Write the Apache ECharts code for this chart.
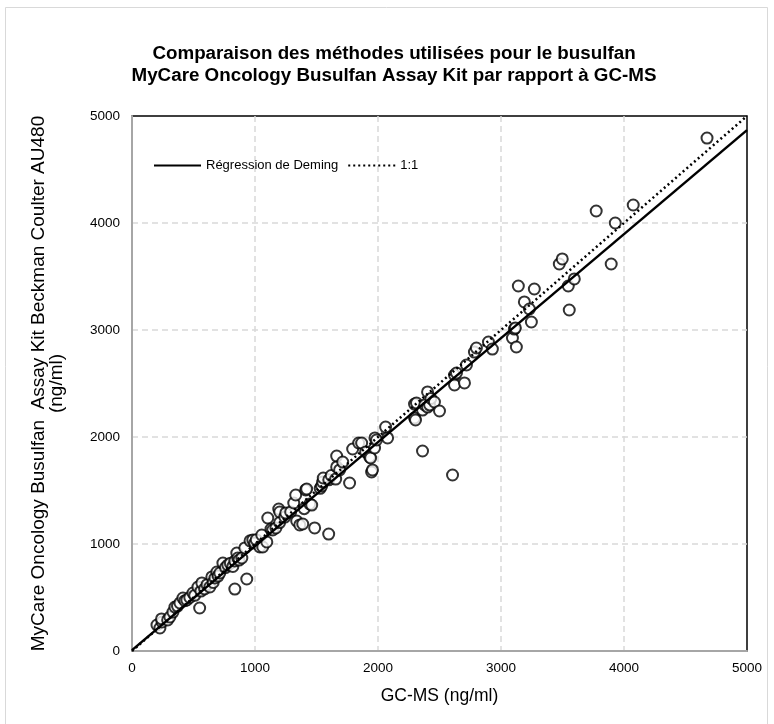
<!DOCTYPE html>
<html>
<head>
    <meta charset="utf-8">
    <script src="https://cdn.jsdelivr.net/npm/echarts@6/dist/echarts.min.js"></script>
    <style>
        html, body { margin: 0; padding: 0; background: #fff; }
    </style>
</head>
<body>
<div id="main" style="width: 774px;height:724px;"></div>
<script type="text/javascript">
    // valeurs (ng/ml)
    var gcms = [203, 227, 244, 240, 290, 308, 333, 349, 370, 390, 414, 430, 446, 470, 495, 510, 536, 550, 560, 568,
        590, 610, 633, 649, 660, 674, 690, 700, 714, 739, 760, 779, 800, 820, 836, 836, 852, 860, 870, 893,
        917, 933, 960, 982, 998, 1010, 1039, 1055, 1063, 1096, 1104, 1130, 1144, 1170, 1193, 1200, 1201, 1242, 1250, 1290,
        1315, 1331, 1339, 1364, 1388, 1400, 1412, 1420, 1445, 1461, 1485, 1530, 1542, 1550, 1555, 1599, 1600, 1620, 1656, 1664,
        1664, 1688, 1713, 1769, 1794, 1843, 1867, 1900, 1932, 1940, 1948, 1955, 1972, 1975, 1988, 2062, 2078, 2297, 2297, 2305,
        2313, 2362, 2362, 2380, 2403, 2403, 2420, 2430, 2459, 2500, 2606, 2622, 2622, 2638, 2703, 2719, 2784, 2800, 2898, 2930,
        3093, 3109, 3117, 3125, 3141, 3190, 3231, 3247, 3271, 3474, 3498, 3547, 3555, 3596, 3774, 3896, 3929, 4075, 4675];
    var mycare = [243, 215, 271, 300, 290, 318, 364, 411, 420, 449, 495, 470, 477, 500, 542, 520, 598, 402, 560, 636,
        580, 620, 598, 692, 640, 682, 738, 700, 729, 822, 780, 804, 820, 790, 841, 579, 916, 869, 850, 869,
        963, 673, 1030, 1037, 1009, 1040, 972, 1084, 972, 1019, 1243, 1140, 1131, 1150, 1327, 1200, 1299, 1252, 1290, 1300,
        1383, 1458, 1215, 1178, 1187, 1330, 1505, 1514, 1374, 1364, 1150, 1520, 1542, 1579, 1617, 1093, 1600, 1640, 1607, 1822,
        1720, 1692, 1766, 1570, 1888, 1944, 1944, 1860, 1813, 1804, 1673, 1692, 1897, 1991, 1972, 2093, 1991, 2308, 2178, 2159,
        2318, 1869, 2252, 2300, 2421, 2280, 2300, 2360, 2327, 2243, 1645, 2579, 2486, 2598, 2505, 2673, 2794, 2832, 2888, 2822,
        2925, 3009, 3019, 2841, 3411, 3262, 3196, 3075, 3383, 3617, 3664, 3411, 3187, 3477, 4112, 3617, 4000, 4168, 4794];
    // droites : régression de Deming et 1:1
    var demingX = [0, 5000];
    var demingY = [8, 4868];
    var identX = [0, 5000];
    var identY = [0, 5000];

    var points = [];
    for (var i = 0; i < gcms.length; i++) {
        points.push([gcms[i], mycare[i]]);
    }
    var deming = [[demingX[0], demingY[0]], [demingX[1], demingY[1]]];
    var ident = [[identX[0], identY[0]], [identX[1], identY[1]]];

    var font = 'Liberation Sans, Arial, sans-serif';
    var split = { showMaxLine: false, lineStyle: { color: '#d9d9d9', type: [6, 4], width: 1.5 } };
    var myChart = echarts.init(document.getElementById('main'));
    myChart.setOption({
        animation: false,
        backgroundColor: '#fff',
        textStyle: { fontFamily: font },
        title: {
            text: 'Comparaison des méthodes utilisées pour le busulfan\nMyCare Oncology Busulfan Assay Kit par rapport à GC-MS',
            left: 389,
            textAlign: 'center',
            top: 38,
            textStyle: { fontSize: 18.8, fontWeight: 'bold', color: '#000', lineHeight: 22, fontFamily: font }
        },
        graphic: [{
            type: 'rect',
            shape: { x: 5.5, y: 7.5, width: 762, height: 720 },
            style: { fill: 'none', stroke: '#d9d9d9', lineWidth: 1 },
            silent: true
        }],
        legend: {
            data: [
                { name: 'Régression de Deming', itemStyle: { opacity: 0 } },
                { name: '1:1', itemStyle: { opacity: 0 } }
            ],
            left: 148,
            top: 154,
            itemWidth: 47,
            itemHeight: 12,
            itemGap: 9,
            textStyle: { fontSize: 13, color: '#000', fontFamily: font }
        },
        grid: {
            left: 132,
            right: 27,
            top: 116,
            bottom: 73,
            show: true,
            borderColor: '#000',
            borderWidth: 1.5
        },
        xAxis: {
            type: 'value',
            min: 0,
            max: 5000,
            interval: 1000,
            name: 'GC-MS (ng/ml)',
            nameLocation: 'middle',
            nameGap: 36,
            nameTextStyle: { fontSize: 17.5, color: '#000', fontFamily: font },
            axisLine: { lineStyle: { color: '#a6a6a6', width: 2 } },
            axisTick: { show: false },
            axisLabel: { fontSize: 13.5, color: '#000', margin: 10, formatter: function (v) { return String(v); } },
            splitLine: split
        },
        yAxis: {
            type: 'value',
            min: 0,
            max: 5000,
            interval: 1000,
            name: 'MyCare Oncology Busulfan  Assay Kit Beckman Coulter AU480\n(ng/ml)',
            nameLocation: 'middle',
            nameGap: 66,
            nameRotate: 90,
            nameTextStyle: { fontSize: 19, color: '#000', lineHeight: 18, fontFamily: font },
            axisLine: { lineStyle: { color: '#a6a6a6', width: 2 } },
            axisTick: { show: false },
            axisLabel: { fontSize: 13.5, color: '#000', margin: 12, formatter: function (v) { return String(v); } },
            splitLine: split
        },
        series: [{
            name: 'points',
            type: 'scatter',
            data: points,
            symbol: 'emptyCircle',
            symbolSize: 11,
            itemStyle: { color: '#000', borderColor: '#000', borderWidth: 1 },
            z: 3
        }, {
            name: 'Régression de Deming',
            type: 'line',
            data: deming,
            symbol: 'none',
            lineStyle: { color: '#000', width: 2.5 },
            itemStyle: { color: '#000' },
            z: 4
        }, {
            name: '1:1',
            type: 'line',
            data: ident,
            symbol: 'none',
            lineStyle: { color: '#000', width: 2.5, type: [2, 3] },
            itemStyle: { color: '#000' },
            z: 4
        }]
    });
</script>
</body>
</html>
